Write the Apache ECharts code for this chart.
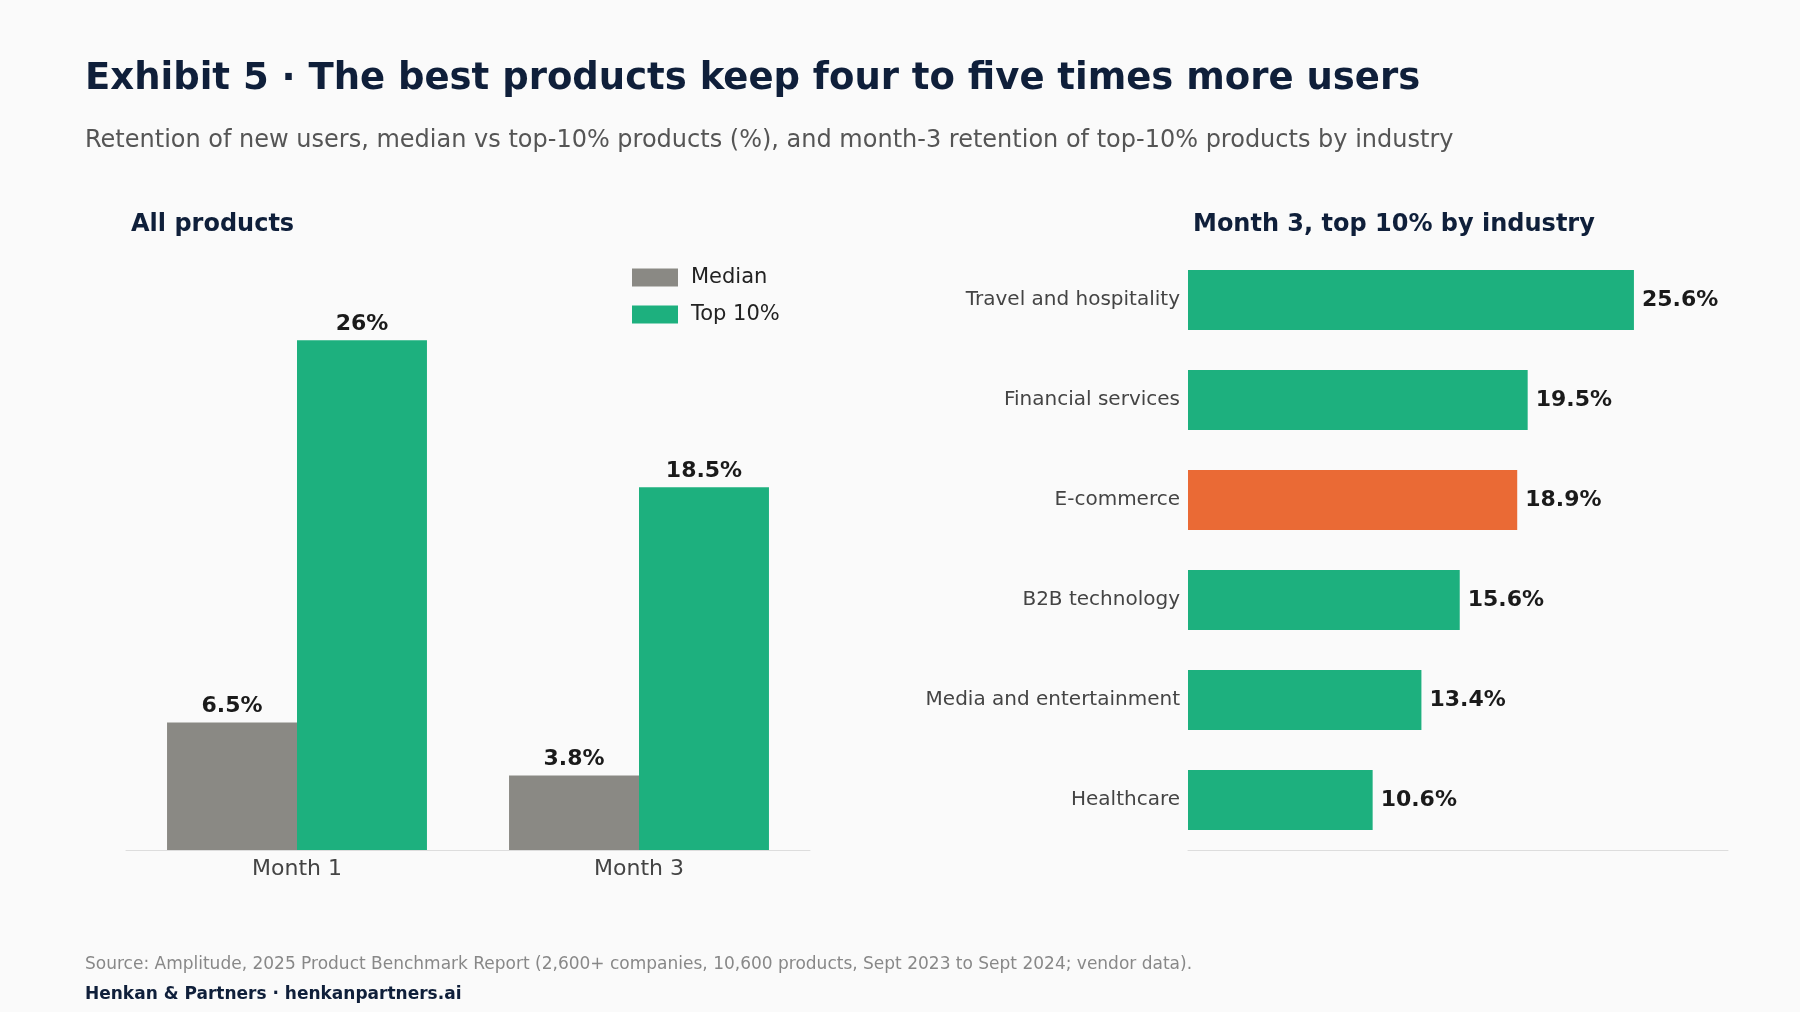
<!DOCTYPE html>
<html>
<head>
<meta charset="utf-8">
<script src="https://cdn.jsdelivr.net/npm/echarts@6/dist/echarts.min.js"></script>
<style>
  html, body { margin: 0; padding: 0; background: #fafafa; }
  #chart { width: 1800px; height: 1012px; }
</style>
</head>
<body>
<div id="chart"></div>
<script>
// ======================
// DATA
// ======================
const months = ["Month 1", "Month 3"];
const medianValues = [6.5, 3.8];
const topValues = [26, 18.5];

const industries = ["Travel and hospitality", "Financial services", "E-commerce",
                    "B2B technology", "Media and entertainment", "Healthcare"];
const industryValues = [25.6, 19.5, 18.9, 15.6, 13.4, 10.6];
const highlight = "E-commerce";

// ======================
// COLORS
// ======================
const COLORS = {
    green: "#1db07e",
    grey: "#8a8984",
    orange: "#ea6a35",
    navy: "#0f1f3a",
    text: "#444444"
};
const FONT = "'DejaVu Sans', sans-serif";

const labelStyle = {
    show: true,
    fontSize: 22,
    fontWeight: "bold",
    color: "#1a1a1a",
    fontFamily: FONT
};

const chart = echarts.init(document.getElementById("chart"));
chart.setOption({
    backgroundColor: "#fafafa",
    animation: false,
    textStyle: { fontFamily: FONT },
    title: [
        { text: "Exhibit 5 · The best products keep four to five times more users",
          left: 80, top: 56, textStyle: { fontSize: 37, fontWeight: "bold", color: COLORS.navy, fontFamily: FONT } },
        { text: "Retention of new users, median vs top-10% products (%), and month-3 retention of top-10% products by industry",
          left: 80, top: 124, textStyle: { fontSize: 24, fontWeight: "normal", color: "#555", fontFamily: FONT } },
        { text: "All products", left: 126, top: 208,
          textStyle: { fontSize: 24, fontWeight: "bold", color: COLORS.navy, fontFamily: FONT } },
        { text: "Month 3, top 10% by industry", left: 1188, top: 208,
          textStyle: { fontSize: 24, fontWeight: "bold", color: COLORS.navy, fontFamily: FONT } },
        { text: "Source: Amplitude, 2025 Product Benchmark Report (2,600+ companies, 10,600 products, Sept 2023 to Sept 2024; vendor data).",
          left: 80, top: 951, textStyle: { fontSize: 17, fontWeight: "normal", color: "#888", fontFamily: FONT } },
        { text: "Henkan & Partners · henkanpartners.ai", left: 80, top: 981,
          textStyle: { fontSize: 17, fontWeight: "bold", color: COLORS.navy, fontFamily: FONT } }
    ],
    legend: {
        left: 627, top: 262, orient: "vertical", itemGap: 16,
        itemWidth: 46, itemHeight: 18, icon: "rect",
        textStyle: { fontSize: 21, color: "#222", fontFamily: FONT, padding: [0, 0, 0, 8] },
        data: ["Median", "Top 10%"]
    },
    grid: [
        { left: 126, right: 990, top: 301, height: 549 },
        { left: 1188, right: 72, top: 250, height: 600 }
    ],
    xAxis: [
        { gridIndex: 0, type: "category", data: months,
          axisLine: { lineStyle: { color: "#dddddd" } }, axisTick: { show: false },
          axisLabel: { fontSize: 22, color: COLORS.text, margin: 8, fontFamily: FONT } },
        { gridIndex: 1, type: "value", min: 0, max: 31,
          splitLine: { show: false }, axisLabel: { show: false },
          axisLine: { show: true, lineStyle: { color: "#dddddd" } } }
    ],
    yAxis: [
        { gridIndex: 0, type: "value", min: 0, max: 28, show: false },
        { gridIndex: 1, type: "category", data: industries, inverse: true,
          axisLine: { show: false }, axisTick: { show: false },
          axisLabel: { fontSize: 20, color: COLORS.text, margin: 8, fontFamily: FONT } }
    ],
    series: [
        { name: "Median", type: "bar", xAxisIndex: 0, yAxisIndex: 0,
          data: medianValues, barWidth: "38%", barGap: "0%",
          itemStyle: { color: COLORS.grey },
          label: { ...labelStyle, position: "top", formatter: p => p.value + "%" } },
        { name: "Top 10%", type: "bar", xAxisIndex: 0, yAxisIndex: 0,
          data: topValues, barWidth: "38%", barGap: "0%",
          itemStyle: { color: COLORS.green },
          label: { ...labelStyle, position: "top", formatter: p => p.value + "%" } },
        { name: "Industry", type: "bar", xAxisIndex: 1, yAxisIndex: 1,
          barWidth: "60%",
          data: industries.map((n, i) => ({
              value: industryValues[i],
              itemStyle: { color: n === highlight ? COLORS.orange : COLORS.green }
          })),
          label: { ...labelStyle, position: "right", distance: 8, formatter: p => p.value.toFixed(1) + "%" } }
    ]
});
</script>
</body>
</html>
